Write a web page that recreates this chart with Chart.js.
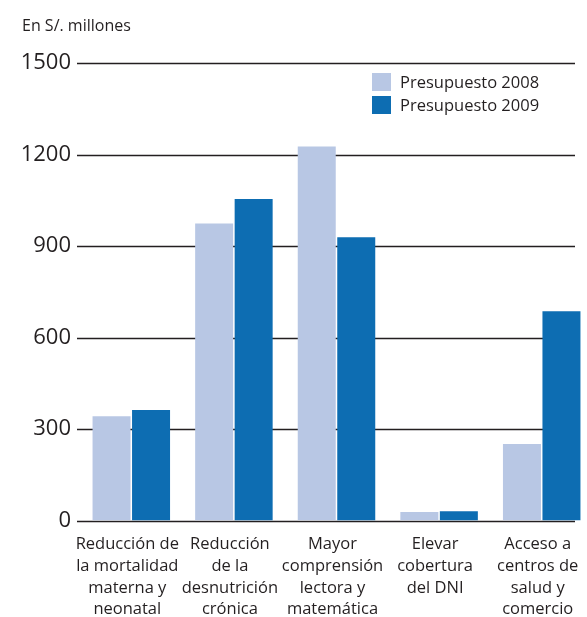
<!DOCTYPE html>
<html>
<head>
<meta charset="utf-8">
<script src="https://cdn.jsdelivr.net/npm/chart.js@4"></script>
<style>
  html, body { margin: 0; padding: 0; background: #fff; overflow: hidden; }
  body { width: 587px; height: 617px; position: relative; font-family: 'Open Sans', sans-serif; color: #231f20; }
  #wrap { position: absolute; left: 0; top: 0; width: 593px; height: 617px; }
  #unit { position: absolute; left: 22px; top: 14px; font-size: 16px; }
  #legend { position: absolute; left: 372px; top: 72px; font-size: 16.5px; }
  #legend div { display: flex; align-items: center; height: 27px; margin-top: -4px; }
  #legend span.box { width: 19px; height: 18px; margin-right: 9px; display: inline-block; }
</style>
</head>
<body>
<div id="wrap"><canvas id="chart" width="593" height="617"></canvas></div>
<div id="unit">En S/. millones</div>
<div id="legend"></div>
<script>
// Data
const categories = [
    ['Reducción de', 'la mortalidad', 'materna y', 'neonatal'],
    ['Reducción', 'de la', 'desnutrición', 'crónica'],
    ['Mayor', 'comprensión', 'lectora y', 'matemática'],
    ['Elevar', 'cobertura', 'del DNI'],
    ['Acceso a', 'centros de', 'salud y', 'comercio']
];
const presupuesto2008 = [342, 974, 1226, 28, 251];
const presupuesto2009 = [362, 1054, 929, 30, 686];
const yTicks = [0, 300, 600, 900, 1200, 1500];

const ink = '#231f20';
const colors = ['#b8c7e4', '#0d6db2'];

Chart.defaults.font.family = "'Open Sans', sans-serif";
Chart.defaults.color = ink;

// horizontal rules drawn behind the bars, ending short of the right edge
const gridPlugin = {
    id: 'rules',
    beforeDatasetsDraw(chart) {
        const { ctx, chartArea, scales } = chart;
        ctx.save();
        ctx.strokeStyle = ink;
        ctx.lineWidth = 1.5;
        yTicks.forEach(v => {
            const y = Math.round(scales.y.getPixelForValue(v)) + 0.5;
            ctx.beginPath();
            ctx.moveTo(chartArea.left - 3, y);
            ctx.lineTo(chartArea.right - 18, y);
            ctx.stroke();
        });
        ctx.restore();
    }
};

const chart = new Chart(document.getElementById('chart'), {
    type: 'bar',
    data: {
        labels: categories,
        datasets: [
            { label: 'Presupuesto 2008', data: presupuesto2008, backgroundColor: colors[0] },
            { label: 'Presupuesto 2009', data: presupuesto2009, backgroundColor: colors[1] }
        ]
    },
    options: {
        responsive: false,
        animation: false,
        categoryPercentage: 0.77,
        barPercentage: 0.962,
        layout: { padding: { top: 63, right: 0, bottom: 0, left: 0 } },
        plugins: {
            legend: { display: false },
            tooltip: { enabled: false }
        },
        scales: {
            x: {
                grid: { display: false },
                border: { display: false },
                ticks: {
                    font: { size: 16.5, lineHeight: 1.32 },
                    color: ink,
                    padding: 5,
                    labelOffset: -4,
                    maxRotation: 0,
                    autoSkip: false
                },
                afterFit(scale) { scale.height = 96.5; }
            },
            y: {
                min: 0,
                max: 1500,
                grid: { display: false, drawTicks: false },
                border: { display: false },
                ticks: {
                    stepSize: 300,
                    font: { size: 22 },
                    color: ink,
                    padding: 9,
                    callback: v => String(v)
                },
                afterFit(scale) { scale.width = 80; }
            }
        }
    },
    plugins: [gridPlugin]
});

// legend
const legend = document.getElementById('legend');
chart.data.datasets.forEach(ds => {
    const row = document.createElement('div');
    row.innerHTML = '<span class="box" style="background:' + ds.backgroundColor + '"></span>' + ds.label;
    legend.appendChild(row);
});
</script>
</body>
</html>
